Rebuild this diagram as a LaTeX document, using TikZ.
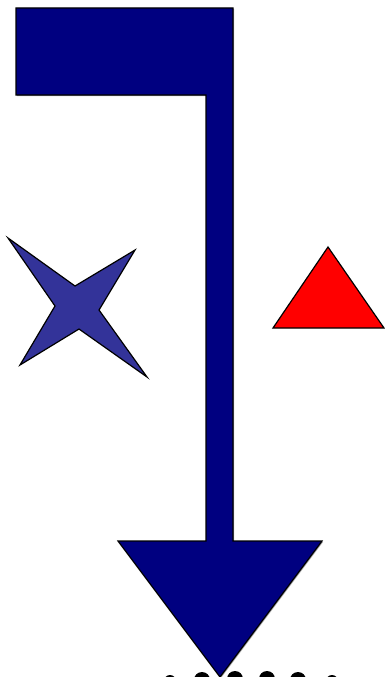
\documentclass[tikz,border=0pt]{standalone}
\usetikzlibrary{calc}
\definecolor{navyfill}{HTML}{000080}
\definecolor{starfill}{HTML}{333399}
\tikzset{
  outline/.style={draw=black, line width=1.2pt, line join=miter},
  dotmark/.style={fill=black}
}

\begin{document}
\begin{tikzpicture}[x=1pt,y=-1pt]
\useasboundingbox (0,0) rectangle (385,677);
\fill[gray!70] (17,9) -- (234,9) -- (234,542) -- (323,542) -- (221,678) -- (119,542) -- (207,542) -- (207,96) -- (17,96) -- cycle;
\draw[outline, fill=navyfill] (16,8) -- (233,8) -- (233,541) -- (322,541) -- (220,677) -- (118,541) -- (206,541) -- (206,95) -- (16,95) -- cycle;
\draw[outline, fill=starfill] (8,238) -- (75,286) -- (135,250) -- (99,310) -- (147,377) -- (79,329) -- (20,365) -- (55,306) -- cycle;
\draw[outline, fill=red] (328,247) -- (384,328) -- (273,328) -- cycle;
\fill[dotmark] (170,681) circle (6) (202,680) circle (8) (235,679) circle (8)
(267,679) circle (8) (298,680) circle (8) (332,681) circle (6);
\end{tikzpicture}
\end{document}
